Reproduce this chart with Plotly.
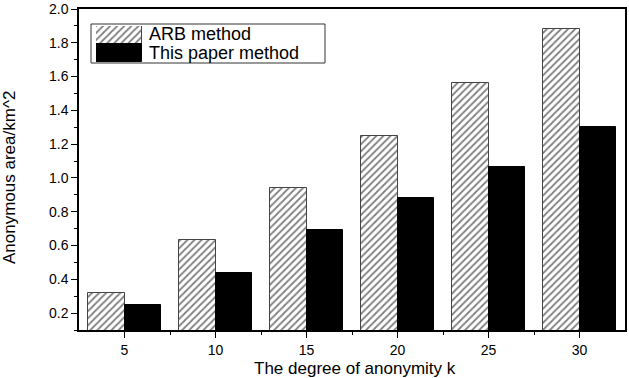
import plotly.graph_objects as go

k_values = [5, 10, 15, 20, 25, 30]
arb_area = [0.32, 0.63, 0.94, 1.25, 1.56, 1.88]
paper_area = [0.25, 0.44, 0.69, 0.88, 1.065, 1.30]
series_names = ["ARB method", "This paper method"]
y_ticks = [0.2, 0.4, 0.6, 0.8, 1.0, 1.2, 1.4, 1.6, 1.8, 2.0]

FONT = "Liberation Sans, Arial, sans-serif"
HATCH = dict(shape="/", fgcolor="black", bgcolor="white", size=5, solidity=0.35)

fig = go.Figure()

fig.add_trace(go.Bar(
    x=k_values, y=arb_area, name=series_names[0],
    width=2, offset=-2,
    marker=dict(color="white", pattern=HATCH, line=dict(color="#444444", width=1)),
    showlegend=False,
))
fig.add_trace(go.Bar(
    x=k_values, y=paper_area, name=series_names[1],
    width=2, offset=0,
    marker=dict(color="black", line=dict(color="black", width=1)),
    showlegend=False,
))

# custom legend swatches on a hidden axis pair
fig.add_trace(go.Bar(
    x=[1], y=[series_names[0]], orientation="h", width=0.95,
    xaxis="x2", yaxis="y2", showlegend=False, hoverinfo="skip",
    marker=dict(color="white", pattern=HATCH, line=dict(color="#444444", width=1)),
))
fig.add_trace(go.Bar(
    x=[1], y=[series_names[1]], orientation="h", width=0.95,
    xaxis="x2", yaxis="y2", showlegend=False, hoverinfo="skip",
    marker=dict(color="black", line=dict(color="black", width=1)),
))

W, H = 629, 378
L, R, T, B = 79, 4, 9, 48
pw, ph = W - L - R, H - T - B

def px_x(p):
    return (p - L) / pw

def px_y(p):
    return (H - B - p) / ph

fig.update_layout(
    width=W, height=H,
    margin=dict(l=L, r=R, t=T, b=B, autoexpand=False),
    paper_bgcolor="white", plot_bgcolor="white",
    font=dict(family=FONT, size=14, color="black"),
    bargap=0,
    xaxis=dict(
        range=[2.5, 32.5], tickvals=k_values, ticks="outside", ticklen=6,
        tickwidth=1, tickcolor="black", showline=True, linecolor="black",
        linewidth=1.5, mirror=True, showgrid=False, zeroline=False,
        tickfont=dict(size=14), automargin=False,
        minor=dict(tickvals=[7.5, 12.5, 17.5, 22.5, 27.5], ticks="outside",
                   ticklen=3, tickcolor="black", showgrid=False),
    ),
    yaxis=dict(
        range=[0.1, 2.0001], tickvals=y_ticks, ticktext=[f"{v:.1f}" for v in y_ticks],
        ticks="outside", ticklen=6, tickwidth=1, tickcolor="black",
        showline=True, linecolor="black", linewidth=1.5, mirror=True,
        showgrid=False, zeroline=False, tickfont=dict(size=14),
        ticklabeloverflow="allow", automargin=False,
        minor=dict(dtick=0.1, tick0=0, ticks="outside", ticklen=3,
                   tickcolor="black", showgrid=False),
    ),
    xaxis2=dict(domain=[px_x(96), px_x(142)], range=[0, 1], anchor="y2",
                visible=False, fixedrange=True),
    yaxis2=dict(domain=[px_y(62), px_y(26)], range=[-0.5, 1.5], anchor="x2",
                visible=False, fixedrange=True,
                categoryorder="array", categoryarray=[series_names[1], series_names[0]]),
    shapes=[dict(type="rect", xref="paper", yref="paper",
                 x0=px_x(91), x1=px_x(325), y0=px_y(63), y1=px_y(24),
                 line=dict(color="#333333", width=1), fillcolor="rgba(0,0,0,0)",
                 layer="below")],
    annotations=[
        dict(text=series_names[0], xref="paper", yref="paper", x=px_x(147), y=px_y(34),
             xanchor="left", yanchor="middle", showarrow=False, font=dict(size=18)),
        dict(text=series_names[1], xref="paper", yref="paper", x=px_x(147), y=px_y(53),
             xanchor="left", yanchor="middle", showarrow=False, font=dict(size=18)),
        dict(text="The degree of anonymity k", xref="paper", yref="paper",
             x=px_x(355), y=px_y(369), xanchor="center", yanchor="middle",
             showarrow=False, font=dict(size=17)),
        dict(text="Anonymous area/km^2", xref="paper", yref="paper",
             x=px_x(10), y=px_y(178), xanchor="center", yanchor="middle",
             textangle=-90, showarrow=False, font=dict(size=17)),
    ],
)

fig.write_html("out.html")
